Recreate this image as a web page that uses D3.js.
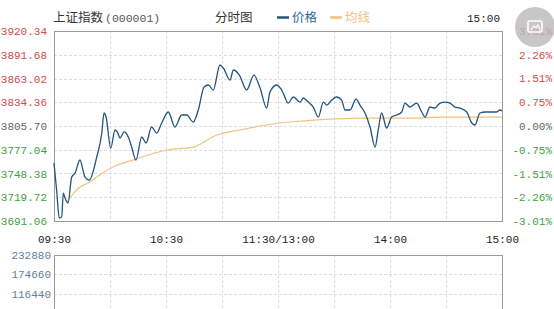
<!DOCTYPE html>
<html>
<head>
<meta charset="UTF-8">
<script src="https://cdn.jsdelivr.net/npm/d3@7"></script>
<style>
  body { margin: 0; background: #fff; }
  svg { display: block; }
  text { font-family: "Liberation Mono", "DejaVu Sans Mono", monospace; font-size: 11px; }
  .cjk { font-family: "Noto Sans CJK SC", sans-serif; }
  .grid { stroke: #dcdcdc; stroke-dasharray: 3,2; stroke-width: 1; }
</style>
</head>
<body>
<div id="chart"></div>
<script>
// price in points, minutes since 09:30 (trading minutes, lunch break removed)
const openPrice = 3805.70;
const priceTicks = [3920.34, 3891.68, 3863.02, 3834.36, 3805.70, 3777.04, 3748.38, 3719.72, 3691.06];
const pctTicks = [3.01, 2.26, 1.51, 0.75, 0, -0.75, -1.51, -2.26, -3.01];
const timeTicks = [0, 60, 120, 180, 240];
const timeLabels = ["09:30", "10:30", "11:30/13:00", "14:00", "15:00"];
const gridTimes = [30, 60, 90, 120, 150, 180, 210];
const volTicks = [232880, 174660, 116440, 58220];

const priceMin = [0, 1.4, 2.8, 4.1, 5.0, 5.9, 7.5, 9.5, 11.3, 13.9, 16.6, 18.9, 22.9, 25.6, 26.8, 27.9,
  30.4, 32.7, 33.9, 35.4, 37.5, 39.8, 41.6, 43.9, 47.0, 49.3, 52.3, 55.0, 57.7, 61.2, 64.8, 68.4,
  71.1, 74.6, 77.3, 80.4, 82.7, 85.3, 88.9, 90.7, 94.3, 96.1, 99.3, 103.2, 107.1, 110.4, 113.9, 115.7,
  119.3, 122.0, 125.5, 128.2, 131.8, 133.6, 136.2, 138.9, 141.6, 144.3, 146.1, 148.8, 151.4, 154.1,
  155.9, 158.6, 161.8, 163.9, 166.6, 169.3, 172.0, 173.7, 175.5, 178.2, 180.9, 183.6, 186.3, 188.0,
  190.7, 194.3, 197.0, 198.8, 201.4, 204.1, 206.8, 209.5, 212.1, 214.8, 217.5, 221.1, 223.8, 225.5,
  228.2, 230.9, 233.6, 237.1, 238.9, 240];
const priceVal = [3761.0, 3728.5, 3694.7, 3695.9, 3724.8, 3718.8, 3712.8, 3744.1, 3749.0, 3764.7, 3744.1, 3740.5, 3768.3, 3797.2, 3821.4, 3816.5,
  3779.1, 3800.9, 3798.5, 3791.2, 3798.5, 3792.4, 3780.3, 3764.7, 3792.4, 3785.2, 3804.5, 3797.2, 3809.3, 3822.6, 3804.5, 3819.0,
  3819.0, 3810.5, 3825.0, 3852.8, 3855.2, 3849.1, 3879.3, 3875.7, 3861.2, 3873.3, 3867.2, 3849.1, 3867.2, 3851.5, 3827.4, 3846.7,
  3855.2, 3849.1, 3833.4, 3840.7, 3834.6, 3839.5, 3834.6, 3828.6, 3816.5, 3834.6, 3831.0, 3837.0, 3840.7, 3837.0,
  3825.0, 3825.0, 3838.2, 3831.0, 3821.4, 3804.5, 3780.3, 3800.9, 3821.4, 3803.3, 3816.5, 3819.0, 3822.6, 3833.4,
  3828.6, 3833.4, 3822.6, 3816.5, 3828.6, 3827.4, 3833.4, 3834.6, 3833.4, 3828.6, 3827.4, 3822.6, 3809.3, 3806.9,
  3821.4, 3822.6, 3822.6, 3822.6, 3825.0, 3823.8];

const avgMin = [6.8, 13.9, 18.2, 22.9, 31.6, 42.3, 60.5, 74.5, 87.3, 99.6, 114.1, 121.1, 126.4, 147.9, 169.3, 190.7, 208.4, 240];
const avgVal = [3714.0, 3732.1, 3736.9, 3744.1, 3756.2, 3764.7, 3776.7, 3780.3, 3794.8, 3800.9, 3806.9, 3809.3, 3810.5, 3814.1, 3815.3, 3815.3, 3816.5, 3816.5];

const w = 554, h = 309;
const plotL = 54, plotR = 502, plotT = 31, plotB = 221;
const volT = 255, volB = 332;

const red = '#d24b4b', green = '#3f9f3f', grey = '#666';

const svg = d3.select('#chart').append('svg')
  .attr('width', w).attr('height', h);

const x = d3.scaleLinear().domain([0, 240]).range([plotL, plotR]);
const y = d3.scaleLinear().domain([3691.06, 3920.34]).range([plotB, plotT]);
const yPct = d3.scaleLinear().domain([-3.01, 3.01]).range([plotB, plotT]);
const yVol = d3.scaleLinear().domain([0, 232880]).range([volB, volT]);

// grid
svg.append('g').selectAll('line')
  .data(priceTicks.slice(1, -1))
  .join('line')
  .attr('class', 'grid')
  .attr('x1', plotL).attr('x2', plotR)
  .attr('y1', d => Math.round(y(d)) + 0.5).attr('y2', d => Math.round(y(d)) + 0.5);

svg.append('g').selectAll('line')
  .data(gridTimes)
  .join('line')
  .attr('class', 'grid')
  .attr('x1', d => Math.round(x(d)) + 0.5).attr('x2', d => Math.round(x(d)) + 0.5)
  .attr('y1', plotT).attr('y2', plotB);

svg.append('g').selectAll('line')
  .data(volTicks.slice(1))
  .join('line')
  .attr('class', 'grid')
  .attr('x1', plotL).attr('x2', plotR)
  .attr('y1', d => Math.round(yVol(d)) + 0.5).attr('y2', d => Math.round(yVol(d)) + 0.5);

svg.append('g').selectAll('line')
  .data(gridTimes)
  .join('line')
  .attr('class', 'grid')
  .attr('x1', d => Math.round(x(d)) + 0.5).attr('x2', d => Math.round(x(d)) + 0.5)
  .attr('y1', volT).attr('y2', volB);

// frames
svg.append('rect')
  .attr('x', plotL + 0.5).attr('y', plotT + 0.5)
  .attr('width', plotR - plotL).attr('height', plotB - plotT)
  .attr('fill', 'none').attr('stroke', '#9a9a9a');

svg.append('rect')
  .attr('x', plotL + 0.5).attr('y', volT + 0.5)
  .attr('width', plotR - plotL).attr('height', volB - volT)
  .attr('fill', 'none').attr('stroke', '#9a9a9a');

// lines
const avgData = avgMin.map((m, i) => [m, avgVal[i]]);
const priceData = priceMin.map((m, i) => [m, priceVal[i]]);

const line = d3.line()
  .x(d => x(d[0]))
  .y(d => y(d[1]))
  .curve(d3.curveMonotoneX);

svg.append('path')
  .datum(avgData)
  .attr('d', line)
  .attr('fill', 'none')
  .attr('stroke', '#efc184')
  .attr('stroke-width', 1.2);

svg.append('path')
  .datum(priceData)
  .attr('d', line)
  .attr('fill', 'none')
  .attr('stroke', '#23547f')
  .attr('stroke-width', 1.3);

const colorFor = v => v > openPrice + 0.001 ? red : (v < openPrice - 0.001 ? green : grey);
const colorPct = v => v > 0 ? red : (v < 0 ? green : grey);

// left axis
const yAxis = d3.axisLeft(y).tickValues(priceTicks).tickSize(0).tickPadding(7)
  .tickFormat(d => d.toFixed(2));
const gy = svg.append('g').attr('transform', `translate(${plotL},0)`).call(yAxis);
gy.select('.domain').remove();
gy.selectAll('text')
  .style('font-size', '11px')
  .attr('fill', d => colorFor(d));

// right axis
const pAxis = d3.axisRight(yPct).tickValues(pctTicks).tickSize(0).tickPadding(0)
  .tickFormat(d => d.toFixed(2) + '%');
const gp = svg.append('g').attr('transform', `translate(552,0)`).call(pAxis);
gp.select('.domain').remove();
gp.selectAll('text')
  .attr('text-anchor', 'end')
  .style('font-size', '11px')
  .attr('fill', d => colorPct(d));

// time axis
const xAxis = d3.axisBottom(x).tickValues(timeTicks).tickSize(0).tickPadding(14)
  .tickFormat((d, i) => timeLabels[i]);
const gx = svg.append('g').attr('transform', `translate(0,${plotB})`).call(xAxis);
gx.select('.domain').remove();
gx.selectAll('text').style('font-size', '11px').attr('fill', '#222');

// volume axis
const vAxis = d3.axisLeft(yVol).tickValues(volTicks).tickSize(0).tickPadding(3)
  .tickFormat(d3.format('d'));
const gv = svg.append('g').attr('transform', `translate(${plotL},0)`).call(vAxis);
gv.select('.domain').remove();
gv.selectAll('text').style('font-size', '11px').attr('fill', '#5f7f9e');

// header
svg.append('text').attr('class', 'cjk')
  .attr('x', plotL - 1).attr('y', 22)
  .style('font-size', '12.5px').attr('fill', '#333')
  .text('上证指数');
svg.append('text')
  .attr('x', 105).attr('y', 22)
  .style('font-size', '11.5px').attr('fill', '#555')
  .text('(000001)');
svg.append('text').attr('class', 'cjk')
  .attr('x', 215).attr('y', 22)
  .style('font-size', '12.5px').attr('fill', '#333')
  .text('分时图');

svg.append('line')
  .attr('x1', 277).attr('x2', 289).attr('y1', 17.5).attr('y2', 17.5)
  .attr('stroke', '#23547f').attr('stroke-width', 2.5);
svg.append('text').attr('class', 'cjk')
  .attr('x', 292).attr('y', 22)
  .style('font-size', '12.5px').attr('fill', '#2e6596')
  .text('价格');
svg.append('line')
  .attr('x1', 330).attr('x2', 342).attr('y1', 17.5).attr('y2', 17.5)
  .attr('stroke', '#efc184').attr('stroke-width', 2.5);
svg.append('text').attr('class', 'cjk')
  .attr('x', 345).attr('y', 22)
  .style('font-size', '12.5px').attr('fill', '#efc184')
  .text('均线');

svg.append('text')
  .attr('x', 500).attr('y', 22)
  .attr('text-anchor', 'end')
  .style('font-size', '11px').attr('fill', '#222')
  .text('15:00');

// watermark badge
const badge = svg.append('g').attr('transform', 'translate(535,27)');
badge.append('circle').attr('r', 20).attr('fill', '#b9b9b9').attr('opacity', 0.8);
badge.append('rect')
  .attr('x', -7).attr('y', -6).attr('width', 14).attr('height', 11).attr('rx', 1.5)
  .attr('fill', 'none').attr('stroke', '#fff').attr('stroke-width', 1.6);
badge.append('path')
  .attr('d', 'M-4,3 L-1,-1 L1,1 L3,-2 L5,3')
  .attr('fill', 'none').attr('stroke', '#fff').attr('stroke-width', 1.2);
</script>
</body>
</html>
